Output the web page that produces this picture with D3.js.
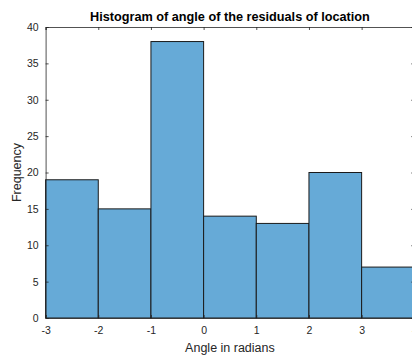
<!DOCTYPE html>
<html>
<head>
<meta charset="utf-8">
<script src="https://cdn.jsdelivr.net/npm/d3@7"></script>
<style>
  body { margin: 0; background: #fff; }
  svg { display: block; font-family: "Liberation Sans", Arial, sans-serif; }
  .tick text { fill: #262626; font-size: 10.5px; }
</style>
</head>
<body>
<div id="chart"></div>
<script>
  // bin edges and counts of the histogram
  var binEdges = [-3, -2, -1, 0, 1, 2, 3, 4]
  var counts = [19, 15, 38, 14, 13, 20, 7]
  var xTicks = [-3, -2, -1, 0, 1, 2, 3, 4]
  var yTicks = [0, 5, 10, 15, 20, 25, 30, 35, 40]

  // dimensions (plot box runs a bit past the right edge, like the original)
  var W = 412, H = 355
  var margin = {top: 27, left: 45.6}
  var plotW = 368.7, plotH = 291

  var x = d3.scaleLinear().domain([-3, 4]).range([0, plotW])
  var y = d3.scaleLinear().domain([0, 40]).range([plotH, 0])

  var svg = d3.select("#chart").append("svg")
    .attr("width", W)
    .attr("height", H)

  var plot = svg.append("g")
    .attr("transform", "translate(" + margin.left + "," + margin.top + ")")

  // bars
  var bins = counts.map(function(c, i){
    return {x0: binEdges[i], x1: binEdges[i + 1], n: c}
  })

  plot.selectAll("rect.bar")
    .data(bins)
  .enter().append("rect")
    .attr("class", "bar")
    .attr("x", function(d){ return x(d.x0) })
    .attr("y", function(d){ return y(d.n) })
    .attr("width", function(d){ return x(d.x1) - x(d.x0) })
    .attr("height", function(d){ return y(0) - y(d.n) })
    .style("fill", "#66AAD7")
    .style("stroke", "#1a1a1a")
    .style("stroke-width", 1)

  // axes with inward ticks
  var xAxis = d3.axisBottom(x).tickValues(xTicks).tickSize(-3).tickPadding(9).tickFormat(d3.format("d"))
  var yAxis = d3.axisLeft(y).tickValues(yTicks).tickSize(-3).tickPadding(7).tickFormat(d3.format("d"))

  var gx = plot.append("g")
    .attr("transform", "translate(0," + plotH + ")")
    .call(xAxis)
  var gy = plot.append("g").call(yAxis)

  // use a plain hyphen for negatives, like the original
  gx.selectAll(".tick text").text(function(d){ return String(d) })

  // top and right box lines with ticks
  var gxTop = plot.append("g").call(d3.axisTop(x).tickValues(xTicks).tickSize(-3).tickFormat(""))
  var gyRight = plot.append("g")
    .attr("transform", "translate(" + plotW + ",0)")
    .call(d3.axisRight(y).tickValues(yTicks).tickSize(-3).tickFormat(""))

  ;[gx, gy, gxTop, gyRight].forEach(function(g){
    g.selectAll(".domain").attr("stroke", "#262626").attr("stroke-width", 0.8)
    g.selectAll(".tick line").attr("stroke", "#262626").attr("stroke-width", 0.8)
  })

  // title
  svg.append("text")
    .attr("x", margin.left + plotW / 2)
    .attr("y", 21)
    .attr("text-anchor", "middle")
    .style("font-size", "12.7px")
    .style("font-weight", "bold")
    .style("fill", "#000")
    .text("Histogram of angle of the residuals of location")

  // axis labels
  svg.append("text")
    .attr("x", margin.left + plotW / 2)
    .attr("y", 352)
    .attr("text-anchor", "middle")
    .style("font-size", "12.5px")
    .style("fill", "#262626")
    .text("Angle in radians")

  svg.append("text")
    .attr("transform", "translate(21," + (margin.top + plotH / 2) + ") rotate(-90)")
    .attr("text-anchor", "middle")
    .style("font-size", "12.5px")
    .style("fill", "#262626")
    .text("Frequency")
</script>
</body>
</html>
